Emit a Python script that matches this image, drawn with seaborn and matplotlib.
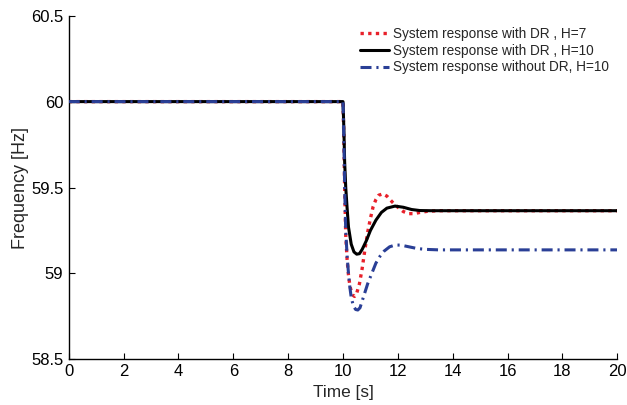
import numpy as np
import pandas as pd
import matplotlib
matplotlib.use("Agg")
import matplotlib.pyplot as plt
import seaborn as sns

# ---- data ----
t_h7 = [0, 10.0, 10.03, 10.06, 10.1, 10.15, 10.2, 10.25, 10.3, 10.35, 10.42, 10.5, 10.6, 10.7, 10.8, 10.9,
        11.0, 11.1, 11.2, 11.3, 11.45, 11.6, 11.8, 12.0, 12.2, 12.4, 12.6, 12.8, 13.1, 13.5, 20]
f_h7 = [60, 60, 59.80, 59.50, 59.22, 59.08, 58.99, 58.93, 58.895, 58.875, 58.866, 58.885, 58.94, 59.03, 59.14, 59.24,
        59.32, 59.39, 59.43, 59.455, 59.463, 59.45, 59.415, 59.385, 59.36, 59.348, 59.348, 59.355, 59.362, 59.365, 59.365]

t_h10 = [0, 10.0, 10.03, 10.06, 10.1, 10.15, 10.2, 10.3, 10.4, 10.5, 10.6, 10.7, 10.85, 11.0, 11.2, 11.4,
         11.6, 11.9, 12.2, 12.5, 12.8, 13.2, 20]
f_h10 = [60, 60, 59.85, 59.65, 59.50, 59.38, 59.27, 59.17, 59.125, 59.112, 59.115, 59.14, 59.19, 59.25, 59.31, 59.355,
         59.38, 59.392, 59.385, 59.372, 59.366, 59.365, 59.365]

t_nodr = [0, 10.0, 10.03, 10.06, 10.1, 10.15, 10.2, 10.25, 10.3, 10.38, 10.46, 10.54, 10.62, 10.7, 10.8, 10.9,
          11.0, 11.1, 11.2, 11.35, 11.5, 11.7, 11.9, 12.1, 12.4, 12.7, 13.0, 13.5, 20]
f_nodr = [60, 60, 59.80, 59.50, 59.25, 59.10, 59.00, 58.92, 58.86, 58.81, 58.79, 58.787, 58.80, 58.84, 58.89, 58.94,
          58.98, 59.02, 59.06, 59.10, 59.13, 59.155, 59.165, 59.165, 59.155, 59.145, 59.14, 59.137, 59.137]

labels = ["System response with DR , H=7",
          "System response with DR , H=10",
          "System response without DR, H=10"]
x_ticks = [0, 2, 4, 6, 8, 10, 12, 14, 16, 18, 20]
y_ticks = [58.5, 59, 59.5, 60, 60.5]
y_ticklabels = ["58.5", "59", "59.5", "60", "60.5"]

sns.set_style("white")
plt.rcParams['font.family'] = ['Liberation Sans', 'DejaVu Sans']

fig = plt.figure(figsize=(6.27, 4.05), dpi=100)
ax = fig.add_axes([0.1096, 0.1128, 0.9845 - 0.1096, 0.9612 - 0.1128])

df7 = pd.DataFrame({"t": t_h7, "f": f_h7})
df10 = pd.DataFrame({"t": t_h10, "f": f_h10})
dfn = pd.DataFrame({"t": t_nodr, "f": f_nodr})

sns.lineplot(data=df7, x="t", y="f", ax=ax, color="#e8202a", lw=2.4,
             linestyle=(0, (1, 1.3)), label=labels[0], zorder=2)
sns.lineplot(data=df10, x="t", y="f", ax=ax, color="black", lw=2.2,
             linestyle="-", label=labels[1], zorder=3)
sns.lineplot(data=dfn, x="t", y="f", ax=ax, color="#2a3f96", lw=2.2,
             linestyle=(0, (3.6, 1.6, 0.7, 1.6)), label=labels[2], zorder=4)

ax.set_xlim(0, 20)
ax.set_ylim(58.5, 60.5)
ax.set_xticks(x_ticks)
ax.set_yticks(y_ticks)
ax.set_yticklabels(y_ticklabels)
ax.tick_params(direction="in", length=4, width=0.8, labelsize=12, colors="black",
               bottom=True, left=True)
ax.tick_params(axis="x", pad=3.5)
ax.tick_params(axis="y", pad=3.8)
ax.set_xlabel("Time [s]", fontsize=12.4, labelpad=4)
ax.set_ylabel("Frequency [Hz]", fontsize=13, labelpad=1.5)

for s in ["top", "right"]:
    ax.spines[s].set_visible(False)
for s in ["left", "bottom"]:
    ax.spines[s].set_color("black")
    ax.spines[s].set_linewidth(1.0)

leg = ax.legend(loc="upper left", bbox_to_anchor=(360 / 627, 1 - 27 / 405),
                bbox_transform=fig.transFigure, frameon=False, fontsize=9.8,
                handlelength=2.13, handletextpad=0.3, labelspacing=0.2,
                borderaxespad=0, borderpad=0)

fig.savefig("out.png", dpi=100)
